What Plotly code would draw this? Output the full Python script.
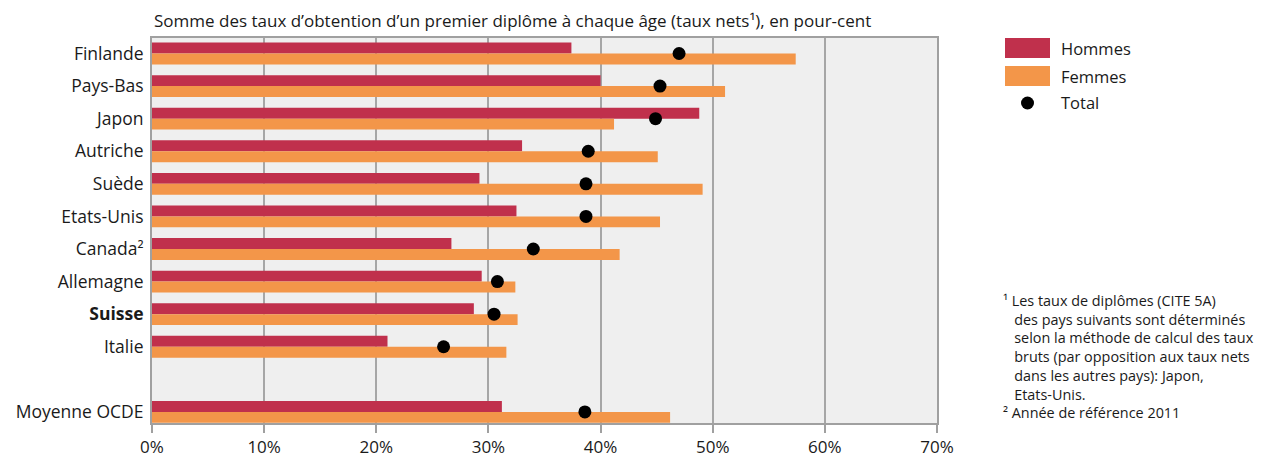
import plotly.graph_objects as go

# Données (en %)
pays = ["Finlande", "Pays-Bas", "Japon", "Autriche", "Suède", "Etats-Unis",
        "Canada²", "Allemagne", "<b>Suisse</b>", "Italie", " ", "Moyenne OCDE"]
hommes = [37.4, 40.0, 48.8, 33.0, 29.2, 32.5, 26.7, 29.4, 28.7, 21.0, None, 31.2]
femmes = [57.4, 51.1, 41.2, 45.1, 49.1, 45.3, 41.7, 32.4, 32.6, 31.6, None, 46.2]
total = [47.0, 45.3, 44.9, 38.9, 38.7, 38.7, 34.0, 30.8, 30.5, 26.0, None, 38.6]
x_ticks = [0, 10, 20, 30, 40, 50, 60, 70]

rouge = "#c0304c"
orange = "#f39649"
gris = "#a0a0a0"
police = "Open Sans"

# zone de tracé : 785 x 385 px, coin haut-gauche à (152, 38) dans la page
X0, Y0, PW, PH = 152, 38, 785, 385

fig = go.Figure()

fig.add_trace(go.Bar(y=pays, x=hommes, orientation="h", name="Hommes",
                     marker=dict(color=rouge, line=dict(width=0)),
                     offsetgroup="h"))
fig.add_trace(go.Bar(y=pays, x=femmes, orientation="h", name="Femmes",
                     marker=dict(color=orange, line=dict(width=0)),
                     offsetgroup="f"))
fig.add_trace(go.Scatter(y=pays, x=total, mode="markers", name="Total",
                         marker=dict(color="black", size=13)))

fig.update_layout(
    width=1254, height=450,          # la page ajoute 8 px de marge
    margin=dict(l=144, r=325, t=30, b=35),
    plot_bgcolor="#efefef",
    paper_bgcolor="white",
    font=dict(family=police, size=17, color="#1a1a1a"),
    barmode="group",
    bargap=0.33,
    bargroupgap=0,
    showlegend=False,
    xaxis=dict(range=[0, 70], tickvals=x_ticks,
               ticktext=[f"{v}%" for v in x_ticks],
               showgrid=True, gridcolor="#a6a6a6", gridwidth=1.5,
               showline=True, linecolor=gris, linewidth=2, mirror=True,
               zeroline=False, ticks="outside", ticklen=8, tickwidth=2,
               tickcolor=gris, ticklabelstandoff=0, automargin=False,
               tickfont=dict(size=17)),
    yaxis=dict(categoryorder="array", categoryarray=pays,
               range=[11.34, -0.475],
               showgrid=False, showline=True, linecolor=gris, linewidth=2,
               mirror=True, ticks="", ticklabelstandoff=3, automargin=False,
               tickfont=dict(size=17.5)),
)

# Titre
fig.add_annotation(text="Somme des taux d’obtention d’un premier diplôme à chaque âge (taux nets¹), en pour-cent",
                   xref="paper", yref="paper", x=0, y=1, yshift=4,
                   xanchor="left", yanchor="bottom", showarrow=False,
                   font=dict(size=17))

# Légende dessinée à la main
for i, (nom, coul) in enumerate([("Hommes", rouge), ("Femmes", orange)]):
    yc = 1 - (48 + 28 * i - Y0) / PH
    fig.add_shape(type="rect", xref="paper", yref="paper",
                  x0=(1005 - X0) / PW, x1=(1050 - X0) / PW,
                  y0=yc - 10 / PH, y1=yc + 10 / PH,
                  fillcolor=coul, line=dict(width=0))
    fig.add_annotation(text=nom, xref="paper", yref="paper",
                       x=(1059 - X0) / PW, y=yc, xanchor="left", yanchor="middle",
                       showarrow=False, font=dict(size=16.5))
yc = 1 - (103 - Y0) / PH
fig.add_shape(type="circle", xref="paper", yref="paper",
              x0=(1021 - X0) / PW, x1=(1034 - X0) / PW,
              y0=yc - 6.5 / PH, y1=yc + 6.5 / PH,
              fillcolor="black", line=dict(width=0))
fig.add_annotation(text="Total", xref="paper", yref="paper",
                   x=(1059 - X0) / PW, y=yc, xanchor="left", yanchor="middle",
                   showarrow=False, font=dict(size=16.5))

# Notes
ind = "\u00a0\u00a0\u00a0"
notes = ("¹ Les taux de diplômes (CITE 5A)<br>"
         + ind + "des pays suivants sont déterminés<br>"
         + ind + "selon la méthode de calcul des taux<br>"
         + ind + "bruts (par opposition aux taux nets<br>"
         + ind + "dans les autres pays): Japon,<br>"
         + ind + "Etats-Unis.<br>"
         "² Année de référence 2011")
fig.add_annotation(text=notes, xref="paper", yref="paper",
                   x=(1001 - X0) / PW, y=1 - (289 - Y0) / PH,
                   xanchor="left", yanchor="top", align="left",
                   showarrow=False, font=dict(size=14.4))

fig.write_html("out.html")
